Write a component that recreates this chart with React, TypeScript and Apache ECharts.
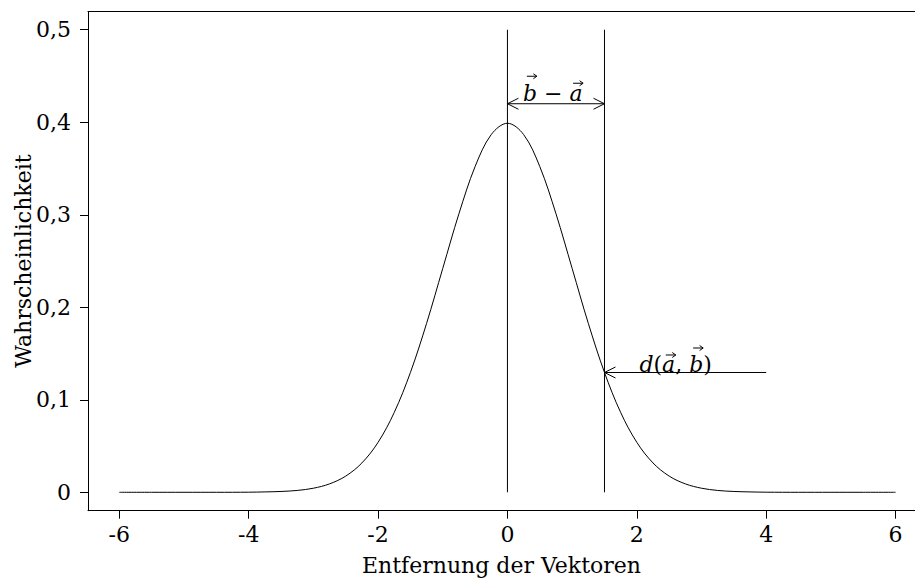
import React, { useEffect, useRef } from "react";
import * as echarts from "echarts";

// ---- data ----
const curveX = [
  -6, -5.5, -5, -4.5, -4, -3.75, -3.5, -3.25, -3, -2.75, -2.5, -2.25, -2, -1.75, -1.5, -1.25,
  -1, -0.75, -0.5, -0.25, 0, 0.25, 0.5, 0.75, 1, 1.25, 1.5, 1.75, 2, 2.25, 2.5, 2.75, 3,
  3.25, 3.5, 3.75, 4, 4.5, 5, 5.5, 6,
];
const curveY = [
  0, 0, 0, 0, 0.0001, 0.0004, 0.0009, 0.002, 0.0044, 0.0091, 0.0175, 0.0317, 0.054, 0.0863,
  0.1295, 0.1826, 0.242, 0.3011, 0.3521, 0.3867, 0.3989, 0.3867, 0.3521, 0.3011, 0.242,
  0.1826, 0.1295, 0.0863, 0.054, 0.0317, 0.0175, 0.0091, 0.0044, 0.002, 0.0009, 0.0004,
  0.0001, 0, 0, 0, 0,
];
const xTickValues = [-6, -4, -2, 0, 2, 4, 6];
const yTickValues = [0, 0.1, 0.2, 0.3, 0.4, 0.5];
const verticalLineX = [0, 1.5];
const verticalLineTop = 0.5;
const spanArrowX = [0, 1.5];
const spanArrowY = 0.42;
const distArrowX = [4, 1.5];
const distArrowY = 0.1295;
const spanLabelX = 0.7;
const distLabelX = 2.6;
const xAxisName = "Entfernung der Vektoren";
const yAxisName = "Wahrscheinlichkeit";

// label pieces: text, italic, vector arrow above, tall letter
type Seg = { t: string; i?: boolean; v?: boolean; tall?: boolean };
const spanLabel: Seg[] = [
  { t: "b", i: true, v: true, tall: true },
  { t: " \u2212 " },
  { t: "a", i: true, v: true },
];
const distLabel: Seg[] = [
  { t: "d", i: true },
  { t: "(" },
  { t: "a", i: true, v: true },
  { t: ", " },
  { t: "b", i: true, v: true, tall: true },
  { t: ")" },
];

const X_MIN = -6.484;
const X_MAX = 6.3;
const Y_MIN = -0.0199;
const Y_MAX = 0.5197;

const FAMILY = "DejaVu Serif";
const FONT = "'DejaVu Serif', serif";
const FS = 22;

let measureCtx: CanvasRenderingContext2D | null = null;
function measure(text: string, italic: boolean) {
  if (!measureCtx) measureCtx = document.createElement("canvas").getContext("2d");
  if (!measureCtx) return text.length * FS * 0.6;
  measureCtx.font = `${italic ? "italic " : ""}${FS}px '${FAMILY}'`;
  return measureCtx.measureText(text).width;
}

function arrowHead(tip: number[], from: number[], L = 11, W = 5.5) {
  const dx = tip[0] - from[0];
  const dy = tip[1] - from[1];
  const len = Math.hypot(dx, dy) || 1;
  const ux = dx / len;
  const uy = dy / len;
  const nx = -uy;
  const ny = ux;
  return {
    type: "polyline",
    shape: {
      points: [
        [tip[0] - ux * L + nx * W, tip[1] - uy * L + ny * W],
        [tip[0], tip[1]],
        [tip[0] - ux * L - nx * W, tip[1] - uy * L - ny * W],
      ],
    },
    style: { stroke: "#000", fill: null, lineWidth: 1 },
  };
}

// baseline y given, centre x given
function mathLabel(segs: Seg[], cx: number, baseline: number) {
  const widths = segs.map((s) => measure(s.t, !!s.i));
  const total = widths.reduce((a, b) => a + b, 0);
  let x = cx - total / 2;
  const out: any[] = [];
  segs.forEach((s, k) => {
    out.push({
      type: "text",
      x,
      y: baseline + 5,
      style: {
        text: s.t,
        fontFamily: FONT,
        fontSize: FS,
        fontStyle: s.i ? "italic" : "normal",
        fill: "#000",
        align: "left",
        verticalAlign: "bottom",
      },
    });
    if (s.v) {
      const w = widths[k];
      const ay = baseline - (s.tall ? 23 : 16);
      const x0 = x + w * 0.28;
      const x1 = x + w * 0.28 + 10;
      out.push({
        type: "line",
        shape: { x1: x0, y1: ay, x2: x1, y2: ay },
        style: { stroke: "#000", lineWidth: 1 },
      });
      out.push(arrowHead([x1, ay], [x0, ay], 3.5, 2.5));
    }
    x += widths[k];
  });
  return out;
}

export default function App() {
  const ref = useRef<HTMLDivElement>(null);
  useEffect(() => {
    if (!ref.current) return;
    const chart = echarts.init(ref.current, null, { renderer: "svg" });
    const option: any = {
      animation: false,
      grid: {
        left: 88,
        right: 0,
        top: 11.5,
        bottom: 70.3,
        containLabel: false,
        outerBoundsMode: "none",
      },
      xAxis: [
        {
          type: "value",
          min: X_MIN,
          max: X_MAX,
          position: "bottom",
          name: xAxisName,
          nameLocation: "middle",
          nameGap: 44,
          nameMoveOverlap: false,
          nameTextStyle: { fontFamily: FONT, fontSize: FS, color: "#000" },
          axisLine: { show: true, onZero: false, lineStyle: { color: "#000", width: 1 } },
          axisTick: {
            show: true,
            inside: false,
            length: 8,
            customValues: xTickValues,
            lineStyle: { color: "#000", width: 1 },
          },
          axisLabel: {
            customValues: xTickValues,
            formatter: (v: number) => String(v),
            margin: 13,
            fontFamily: FONT,
            fontSize: FS,
            color: "#000",
          },
          splitLine: { show: false },
        },
        {
          type: "value",
          min: X_MIN,
          max: X_MAX,
          position: "top",
          axisLine: { show: true, onZero: false, lineStyle: { color: "#000", width: 1 } },
          axisTick: { show: false },
          axisLabel: { show: false },
          splitLine: { show: false },
        },
      ],
      yAxis: {
        type: "value",
        min: Y_MIN,
        max: Y_MAX,
        name: yAxisName,
        nameLocation: "middle",
        nameGap: 54,
        nameMoveOverlap: false,
        nameTextStyle: { fontFamily: FONT, fontSize: FS, color: "#000" },
        axisLine: { show: true, onZero: false, lineStyle: { color: "#000", width: 1 } },
        axisTick: {
          show: true,
          inside: false,
          length: 8,
          customValues: yTickValues,
          lineStyle: { color: "#000", width: 1 },
        },
        axisLabel: {
          customValues: yTickValues,
          formatter: (v: number) => (v === 0 ? "0" : v.toFixed(1).replace(".", ",")),
          margin: 17,
          fontFamily: FONT,
          fontSize: FS,
          color: "#000",
        },
        splitLine: { show: false },
      },
      series: [
        {
          type: "line",
          xAxisIndex: 0,
          data: curveX.map((x, i) => [x, curveY[i]]),
          showSymbol: false,
          smooth: 0.35,
          lineStyle: { color: "#000", width: 1 },
          silent: true,
        },
        {
          type: "custom",
          xAxisIndex: 0,
          coordinateSystem: "cartesian2d",
          data: [[0, 0]],
          silent: true,
          renderItem: (_params: any, api: any) => {
            const children: any[] = [];
            const stroke = { stroke: "#000", lineWidth: 1 };
            for (const x of verticalLineX) {
              const p0 = api.coord([x, 0]);
              const p1 = api.coord([x, verticalLineTop]);
              children.push({
                type: "line",
                shape: { x1: p0[0], y1: p0[1], x2: p1[0], y2: p1[1] },
                style: stroke,
              });
            }
            // double arrow b - a
            const a0 = api.coord([spanArrowX[0], spanArrowY]);
            const a1 = api.coord([spanArrowX[1], spanArrowY]);
            children.push({
              type: "line",
              shape: { x1: a0[0], y1: a0[1], x2: a1[0], y2: a1[1] },
              style: stroke,
            });
            children.push(arrowHead(a0, a1));
            children.push(arrowHead(a1, a0));
            // distance arrow
            const d0 = api.coord([distArrowX[0], distArrowY]);
            const d1 = api.coord([distArrowX[1], distArrowY]);
            children.push({
              type: "line",
              shape: { x1: d0[0], y1: d0[1], x2: d1[0], y2: d1[1] },
              style: stroke,
            });
            children.push(arrowHead(d1, d0));
            // labels
            const l1 = api.coord([spanLabelX, spanArrowY]);
            children.push(...mathLabel(spanLabel, l1[0], l1[1] - 4.5));
            const l2 = api.coord([distLabelX, distArrowY]);
            children.push(...mathLabel(distLabel, l2[0], l2[1] - 1.5));
            return { type: "group", children };
          },
        },
      ],
    };
    chart.setOption(option);
    return () => chart.dispose();
  }, []);
  return (
    <div
      ref={ref}
      style={{ position: "fixed", left: 0, top: 0, width: 915, height: 581, background: "#fff" }}
    />
  );
}
